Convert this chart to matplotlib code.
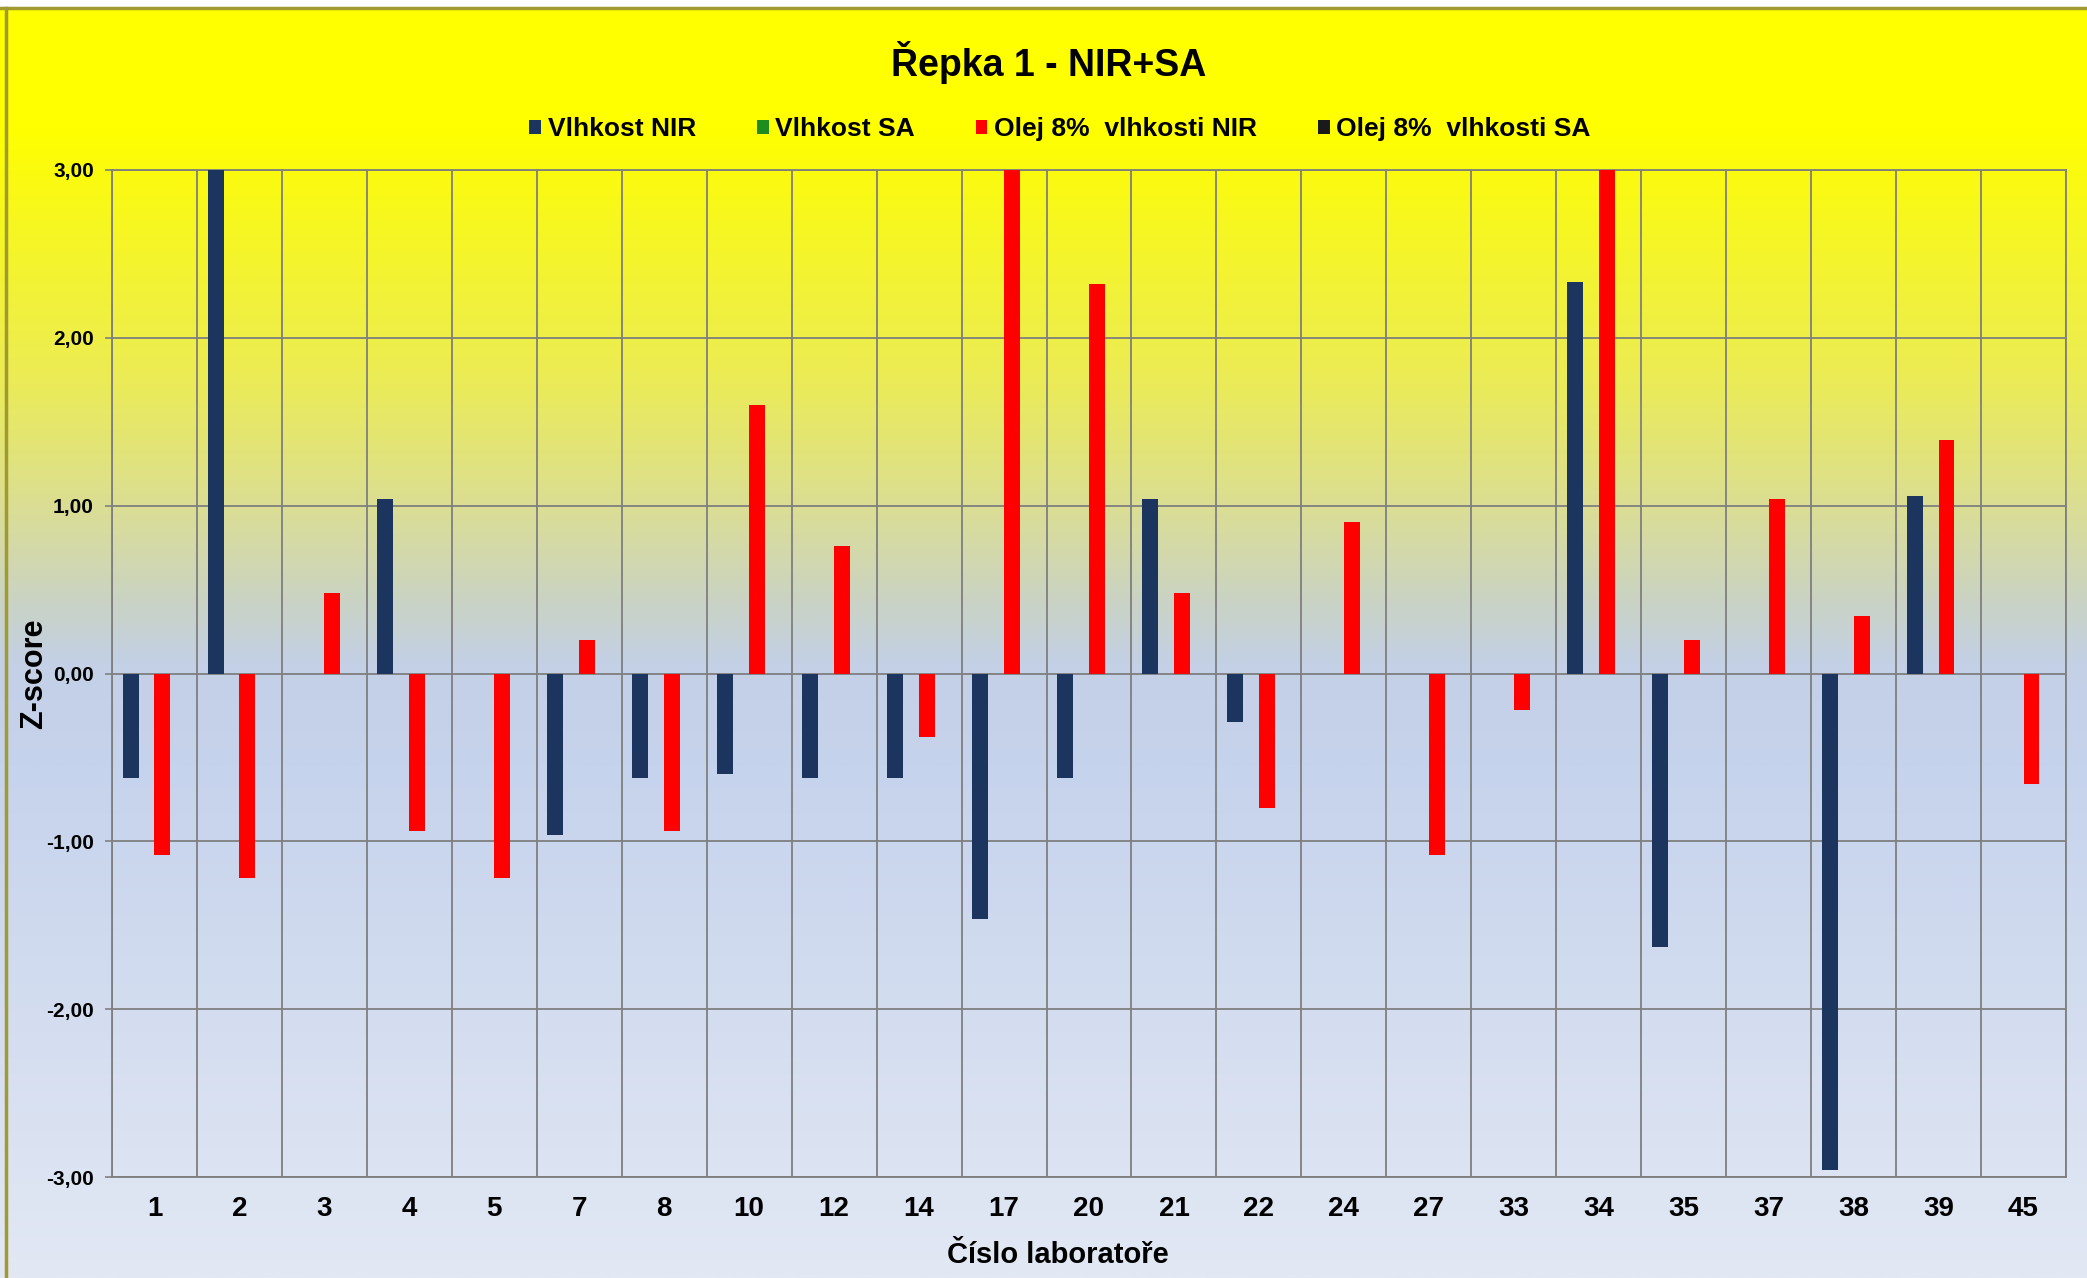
import numpy as np
import matplotlib
matplotlib.use("Agg")
import matplotlib.pyplot as plt
from matplotlib.colors import LinearSegmentedColormap
from matplotlib.patches import Patch
from matplotlib.ticker import FuncFormatter, FixedLocator

plt.rcParams['font.family'] = ['Liberation Sans Narrow', 'Liberation Sans', 'DejaVu Sans']
plt.rcParams['font.weight'] = 'bold'

# data
labs = ['1', '2', '3', '4', '5', '7', '8', '10', '12', '14', '17', '20',
        '21', '22', '24', '27', '33', '34', '35', '37', '38', '39', '45']
vlhkost_nir = [-0.62, 3.00, 0.00, 1.04, 0.00, -0.96, -0.62, -0.60, -0.62, -0.62, -1.46, -0.62,
               1.04, -0.29, 0.00, 0.00, 0.00, 2.33, -1.63, 0.00, -2.96, 1.06, 0.00]
vlhkost_sa = [0.0] * len(labs)
olej_nir = [-1.08, -1.22, 0.48, -0.94, -1.22, 0.20, -0.94, 1.60, 0.76, -0.38, 3.00, 2.32,
            0.48, -0.80, 0.90, -1.08, -0.22, 3.00, 0.20, 1.04, 0.34, 1.39, -0.66]
olej_sa = [0.0] * len(labs)

series = ['Vlhkost NIR', 'Vlhkost SA', 'Olej 8%  vlhkosti NIR', 'Olej 8%  vlhkosti SA']
colors = ['#1c355e', '#1e8c1e', '#ff0000', '#1a1a1a']
yticks = [-3, -2, -1, 0, 1, 2, 3]

W, H = 2087, 1278
fig = plt.figure(figsize=(W / 100, H / 100), dpi=100)

# background gradient (yellow at top -> pale blue at bottom)
bg = fig.add_axes([0, 0, 1, 1], zorder=-10)
stops = [(0.0, '#ffff00'), (0.10, '#ffff00'), (0.14, '#fafa12'), (0.30, '#ebeb58'),
         (0.41, '#d8dc9c'), (0.47, '#cad3c4'), (0.52, '#c3d0e6'), (0.60, '#c6d3ec'),
         (1.0, '#e2e8f4')]
cmap = LinearSegmentedColormap.from_list('bg', stops)
grad = np.linspace(0, 1, 512).reshape(-1, 1)
bg.imshow(grad, cmap=cmap, aspect='auto', extent=[0, 1, 1, 0], origin='upper')
bg.set_xlim(0, 1)
bg.set_ylim(1, 0)
bg.axis('off')
# white strip + border at top, border at left
bg.fill_between([0, 1], 0, 7 / H, color='white', zorder=2)
bg.plot([0, 1], [8 / H, 8 / H], color='#a09a30', lw=2.5, zorder=3)
bg.plot([6 / W, 6 / W], [8 / H, 1], color='#a09a30', lw=2.5, zorder=3)

ax = fig.add_axes([112 / W, 1 - 1177 / H, (2066 - 112) / W, (1177 - 170) / H])
ax.patch.set_alpha(0)

x = np.arange(len(labs))
bw = 0.1875
for i, (vals, c) in enumerate(zip([vlhkost_nir, vlhkost_sa, olej_nir, olej_sa], colors)):
    ax.bar(x + (i - 1.5) * bw, vals, width=bw, color=c, linewidth=0, zorder=3)

ax.set_xlim(-0.5, len(labs) - 0.5)
ax.set_ylim(-3, 3)
ax.set_yticks(yticks)
ax.yaxis.set_major_formatter(FuncFormatter(lambda v, p: f'{v:.2f}'.replace('.', ',')))
ax.set_xticks(x)
ax.set_xticklabels(labs)
ax.xaxis.set_minor_locator(FixedLocator(np.arange(len(labs) + 1) - 0.5))
ax.tick_params(axis='x', which='both', length=0, pad=14, labelsize=20)
ax.tick_params(axis='y', length=5, width=1.2, color='#808080', pad=8, labelsize=15)
ax.grid(axis='y', which='major', color='#7f7f7f', lw=1.3, zorder=1)
ax.grid(axis='x', which='minor', color='#7f7f7f', lw=1.3, zorder=1)
for s in ax.spines.values():
    s.set_color('#7f7f7f')
    s.set_linewidth(1.3)

ax.set_ylabel('Z-score', fontsize=22, fontweight='bold', va='center')
ax.yaxis.set_label_coords(-0.04, 0.5)
ax.set_xlabel('Číslo laboratoře', fontsize=21, fontweight='bold')
ax.xaxis.set_label_coords(0.484, -0.0775)
ax.xaxis.label.set_va('center')

fig.text(1049 / W, 1 - 63 / H, 'Řepka 1 - NIR+SA', ha='center', va='center',
         fontsize=27, fontweight='bold')

handles = [Patch(facecolor=c, edgecolor='none') for c in colors]
fig.legend(handles, series, loc='center', bbox_to_anchor=(1060 / W, 1 - 129 / H), ncol=4,
           frameon=False, fontsize=19, handlelength=0.45, handleheight=0.45,
           handletextpad=0.25, columnspacing=2.3)

fig.savefig('out.png', dpi=100)
